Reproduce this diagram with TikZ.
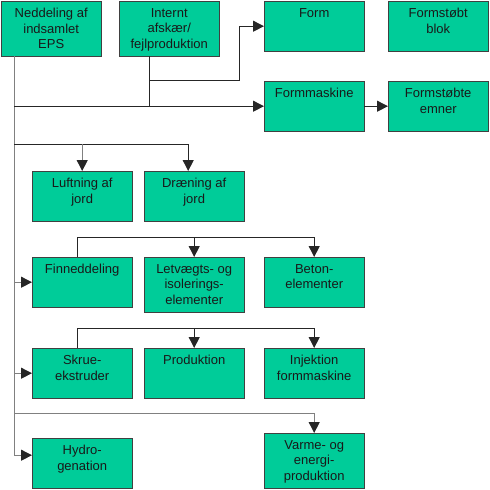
\documentclass[tikz,border=0pt]{standalone}
\usepackage{fontspec}
\setmainfont{Liberation Sans}
\usetikzlibrary{arrows.meta,positioning,calc}
\definecolor{boxgreen}{HTML}{00CC99}
\definecolor{edgegray}{HTML}{404040}
\definecolor{linegray}{HTML}{262626}
\tikzset{
  block/.style={draw=edgegray, fill=boxgreen, anchor=north west, minimum width=100pt, minimum height=50pt, inner sep=0pt},
  tall/.style={minimum height=55pt},
  txt/.style={anchor=north, align=center, inner sep=7pt, font=\fontsize{13}{15.5}\selectfont, text=black!90},
  conn/.style={draw=linegray, line width=0.9pt},
  trunk/.style={draw=gray, line width=0.9pt},
  arrow/.style={conn, -{Triangle[length=11pt, width=11pt, color=linegray]}}
}

\begin{document}
\begin{tikzpicture}[x=1pt, y=-1pt]
  \useasboundingbox (0,0) rectangle (490,490);
  % boxes
  \node[block, tall, label={[txt]north:Neddeling af\\indsamlet\\EPS}] (ned) at (1,1) {};
  \node[block, tall, label={[txt]north:Internt\\afskær/\\fejlproduktion}] (intern) at (119,1) {};
  \node[block, label={[txt]north:Form}] (form) at (264,1) {};
  \node[block, label={[txt]north:Formstøbt\\blok}] (blok) at (388,1) {};
  \node[block, label={[txt]north:Formmaskine}] (fmask) at (264,81) {};
  \node[block, label={[txt]north:Formstøbte\\emner}] (femner) at (388,81) {};
  \node[block, label={[txt]north:Luftning af\\jord}] (luft) at (32,171) {};
  \node[block, label={[txt]north:Dræning af\\jord}] (draen) at (144,171) {};
  \node[block, label={[txt]north:Finneddeling}] (finn) at (32,257) {};
  \node[block, tall, label={[txt]north:Letvægts- og\\isolerings-\\elementer}] (letv) at (144,257) {};
  \node[block, label={[txt]north:Beton-\\elementer}] (beton) at (264,257) {};
  \node[block, label={[txt]north:Skrue-\\ekstruder}] (skrue) at (32,348) {};
  \node[block, label={[txt]north:Produktion}] (prod) at (144,348) {};
  \node[block, label={[txt]north:Injektion\\formmaskine}] (inj) at (264,348) {};
  \node[block, label={[txt]north:Hydro-\\genation}] (hydro) at (32,438) {};
  \node[block, tall, label={[txt]north:Varme- og\\energi-\\produktion}] (varme) at (264,433) {};

  % helper points
  \coordinate (t0) at ([xshift=13pt]ned.south west);
  \coordinate (hyin) at ($(hydro.west)+(0,-8)$);
  \coordinate (i0) at ([xshift=30pt]intern.south west);
  \coordinate (ibend) at (239,80);
  \coordinate (jrow) at (0,144);
  \coordinate (vrow) at (0,413);
  \coordinate (fup) at ([xshift=-5pt]finn.north);
  \coordinate (fbar) at ($(fup)+(0,-20)$);
  \coordinate (sup) at ([xshift=-5pt]skrue.north);
  \coordinate (sbar) at ($(sup)+(0,-20)$);

  % trunk and branches
  \draw[arrow, trunk] (t0) |- (hyin);
  \draw[arrow] (t0 |- fmask.west) -- (fmask.west);
  \draw[arrow] (fmask) -- (femner);
  \draw[arrow, trunk] (t0 |- finn.west) -- (finn.west);
  \draw[arrow, trunk] (t0 |- skrue.west) -- (skrue.west);
  \draw[arrow] (t0 |- jrow) -| ([xshift=-6pt]draen.north);
  \draw[arrow, trunk] (luft.north |- jrow) -- (luft.north);
  \draw[arrow, trunk] (t0 |- vrow) -| (varme.north);

  % internt
  \draw[conn] (i0) -- (i0 |- fmask.west);
  \draw[arrow] (i0 |- ibend) -- (ibend) |- (form.west);

  % finneddeling and skrue
  \draw[arrow] (fup) -- (fbar) -| (beton.north);
  \draw[arrow] (letv.north |- fbar) -- (letv.north);
  \draw[arrow] (sup) -- (sbar) -| (inj.north);
  \draw[arrow] (prod.north |- sbar) -- (prod.north);
\end{tikzpicture}
\end{document}
